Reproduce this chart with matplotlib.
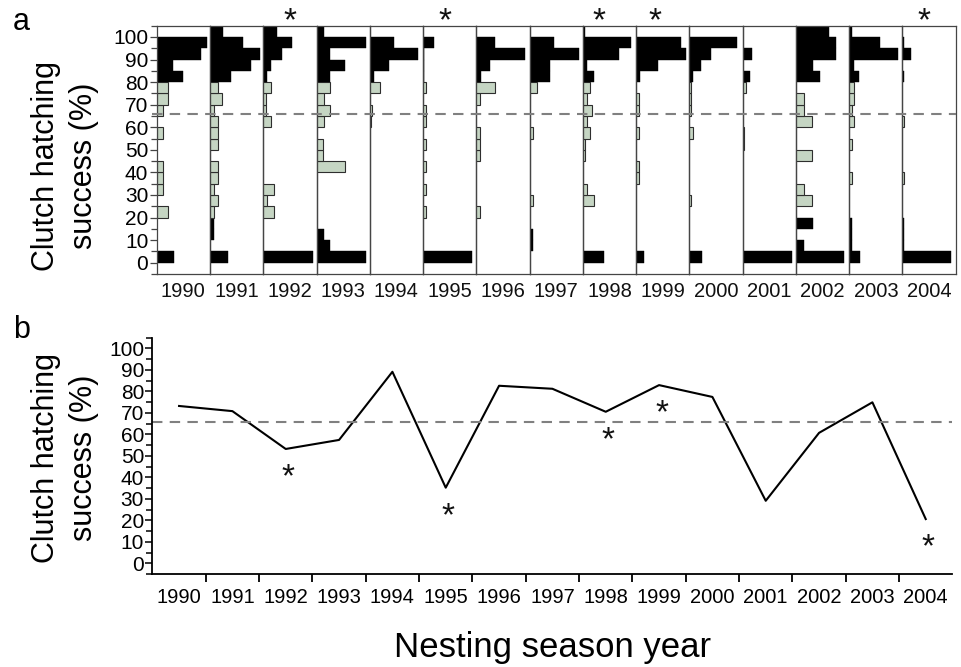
import matplotlib
matplotlib.use("Agg")
import matplotlib.pyplot as plt
from matplotlib.ticker import FixedLocator

plt.rcParams['font.family'] = ['Liberation Sans', 'DejaVu Sans']

# ── data ───────────────────────────────────────────────────────────────────
years = list(range(1990, 2005))
bin_lower = list(range(0, 105, 5))          # 5 % classes, 0 … 100

# relative frequency of clutches per 5 % class (bottom class first)
hist_1990 = [52, 0, 0, 0, 35, 0, 20, 20, 20, 0, 0, 20, 0, 20, 33, 33, 80, 48, 132, 150, 0]
hist_1991 = [53, 0, 13, 13, 13, 25, 13, 25, 25, 0, 25, 25, 25, 13, 37, 25, 62, 122, 150, 98, 38]
hist_1992 = [150, 0, 0, 0, 31, 10, 31, 0, 0, 0, 0, 0, 22, 8, 8, 22, 10, 23, 55, 87, 40]
hist_1993 = [150, 40, 22, 0, 0, 0, 0, 0, 85, 20, 20, 0, 22, 40, 22, 40, 42, 87, 42, 150, 22]
hist_1994 = [0, 0, 0, 0, 0, 0, 0, 0, 0, 0, 0, 0, 3, 8, 0, 30, 13, 57, 145, 72, 0]
hist_1995 = [148, 0, 0, 0, 10, 0, 10, 0, 10, 0, 10, 0, 10, 10, 0, 10, 4, 4, 4, 33, 0]
hist_1996 = [0, 0, 0, 0, 12, 0, 0, 0, 0, 12, 12, 12, 0, 0, 12, 55, 13, 40, 145, 55, 0]
hist_1997 = [0, 11, 11, 0, 0, 11, 0, 0, 0, 0, 0, 11, 0, 0, 0, 23, 60, 60, 148, 73, 0]
hist_1998 = [64, 0, 0, 0, 0, 34, 12, 0, 0, 5, 5, 22, 12, 27, 12, 22, 34, 13, 109, 146, 6]
hist_1999 = [24, 0, 0, 0, 0, 0, 0, 9, 9, 0, 0, 10, 0, 9, 9, 0, 11, 66, 149, 134, 0]
hist_2000 = [39, 0, 0, 0, 0, 6, 0, 0, 0, 0, 0, 12, 0, 4, 4, 4, 11, 34, 64, 144, 0]
hist_2001 = [148, 0, 0, 0, 0, 0, 0, 0, 0, 0, 3, 3, 0, 0, 0, 10, 23, 0, 28, 0, 0]
hist_2002 = [145, 25, 0, 50, 0, 49, 25, 0, 0, 49, 0, 0, 49, 25, 25, 0, 73, 51, 121, 121, 98]
hist_2003 = [33, 9, 9, 9, 0, 0, 0, 9, 0, 0, 9, 0, 15, 9, 15, 15, 28, 15, 148, 93, 9]
hist_2004 = [145, 5, 5, 5, 0, 0, 0, 6, 0, 0, 0, 0, 6, 0, 0, 0, 6, 0, 25, 5, 0]
histograms = [hist_1990, hist_1991, hist_1992, hist_1993, hist_1994, hist_1995,
              hist_1996, hist_1997, hist_1998, hist_1999, hist_2000, hist_2001,
              hist_2002, hist_2003, hist_2004]

# mean clutch hatching success per season (%)
mean_success = [73.2, 70.8, 53.2, 57.4, 89.1, 35.2, 82.6, 81.2,
                70.5, 82.9, 77.4, 29.1, 60.7, 74.9, 20.6]
overall_mean = 65.7
sig_years = [1992, 1995, 1998, 1999, 2004]

# ── layout (pixel based) ───────────────────────────────────────────────────
W, H = 961, 667
GRAY = "#c5d5c3"
DASH = "#808080"
TICK_FS = 15
YEAR_FS = 14.5


def fx(px):
    return px / W


def fy(py):
    return 1 - py / H


fig = plt.figure(figsize=(W / 100, H / 100), dpi=100)
fig.patch.set_facecolor("white")

# ── panel a: per-season histograms ─────────────────────────────────────────
a_left, a_top, a_bot, a_w = 156.7, 25.7, 274.0, 53.27
star_dx = {1992: 0.50, 1995: 0.42, 1998: 0.30, 1999: 0.36, 2004: 0.40}

for i, (yr, h) in enumerate(zip(years, histograms)):
    ax = fig.add_axes([fx(a_left + i * a_w), fy(a_bot), fx(a_w), (a_bot - a_top) / H])
    ax.set_facecolor("none")
    ax.set_ylim(-5, 105)
    ax.set_xlim(0, 160)
    for b, v in zip(bin_lower, h):
        if v <= 0:
            continue
        dark = b < 20 or b >= 80
        ax.barh(b, v, height=5, align="edge",
                color="black" if dark else GRAY,
                edgecolor="black" if dark else "#2e2e2e",
                linewidth=0.8 if not dark else 0.3)
    for s in ax.spines.values():
        s.set_color("#454545")
        s.set_linewidth(0.9)
    ax.set_xticks([])
    if i == 0:
        ax.set_yticks(list(range(0, 101, 10)))
        ax.yaxis.set_minor_locator(FixedLocator(list(range(-5, 106, 10))))
        ax.tick_params(axis="y", which="major", length=5, width=0.9,
                       color="#454545", labelsize=TICK_FS, pad=1)
        ax.tick_params(axis="y", which="minor", length=4, width=0.9, color="#454545")
    else:
        ax.set_yticks([])
    ax.text(0.5, -0.072, str(yr), transform=ax.transAxes, ha="center",
            va="center", fontsize=YEAR_FS, color="#111111")
    if yr in sig_years:
        ax.annotate("*", xy=(star_dx[yr], 1.0), xycoords="axes fraction",
                    xytext=(0, -3), textcoords="offset points",
                    ha="center", va="baseline", fontsize=24, color="#111111",
                    annotation_clip=False)

# dashed mean line across all 15 panels
ov = fig.add_axes([fx(a_left - 5), fy(a_bot), fx(15 * a_w + 5), (a_bot - a_top) / H])
ov.set_facecolor("none")
ov.axis("off")
ov.set_ylim(-5, 105)
ov.set_xlim(0, 1)
ov.plot([0, 1], [overall_mean, overall_mean], color=DASH, lw=1.5,
        dashes=(5, 3.5), clip_on=False)

fig.text(fx(13), fy(30), "a", fontsize=22, ha="left", va="baseline")
fig.text(fx(65), fy(166), "Clutch hatching\nsuccess (%)", rotation=90,
         ha="center", va="center", fontsize=22, linespacing=1.35)

# ── panel b: mean hatching success per season ──────────────────────────────
b_left, b_right, b_top, b_bot = 152.4, 952.4, 337.6, 574.1
axb = fig.add_axes([fx(b_left), fy(b_bot), fx(b_right - b_left), (b_bot - b_top) / H])
axb.set_xlim(years[0] - 0.5, years[-1] + 0.5)
axb.set_ylim(-5, 105)
axb.plot(years, mean_success, color="black", lw=1.5)
axb.axhline(overall_mean, color=DASH, lw=1.5, dashes=(5, 3.5))

for yr in sig_years:
    k = years.index(yr)
    axb.annotate("*", xy=(yr + 0.05, mean_success[k] - 9),
                 xytext=(0, -13), textcoords="offset points",
                 ha="center", va="baseline", fontsize=24, color="#111111")

for side in ("top", "right"):
    axb.spines[side].set_visible(False)
for side in ("left", "bottom"):
    axb.spines[side].set_linewidth(1.3)

axb.set_yticks(list(range(0, 101, 10)))
axb.yaxis.set_minor_locator(FixedLocator(list(range(-5, 106, 10))))
axb.tick_params(axis="y", which="major", length=5, width=1.1, labelsize=TICK_FS, pad=1)
axb.tick_params(axis="y", which="minor", length=4, width=1.1)

axb.set_xticks([y + 0.5 for y in years[:-1]])
axb.set_xticklabels([])
axb.set_xticks(years, minor=True)
axb.set_xticklabels([str(y) for y in years], minor=True)
axb.tick_params(axis="x", which="major", length=6, width=1.3)
axb.tick_params(axis="x", which="minor", length=0, labelsize=YEAR_FS, pad=10)

fig.text(fx(13), fy(338), "b", fontsize=22, ha="left", va="baseline")
fig.text(fx(65), fy(458), "Clutch hatching\nsuccess (%)", rotation=90,
         ha="center", va="center", fontsize=22, linespacing=1.35)
fig.text(fx(553), fy(657), "Nesting season year", fontsize=25,
         ha="center", va="baseline")

fig.savefig("out.png", dpi=100, facecolor="white")
